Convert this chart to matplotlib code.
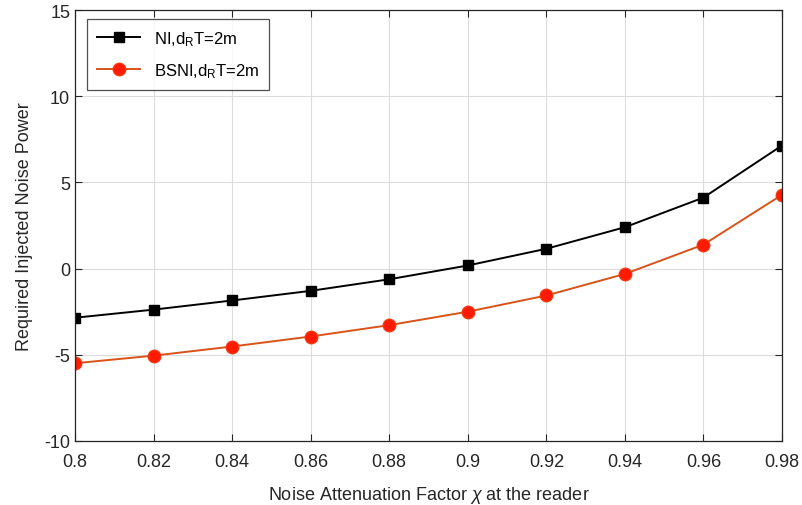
from matplotlib import pyplot as pl
import matplotlib

matplotlib.rcParams['font.family'] = ['Liberation Sans', 'DejaVu Sans']
matplotlib.rcParams['mathtext.fontset'] = 'custom'
matplotlib.rcParams['mathtext.rm'] = 'Liberation Sans'
matplotlib.rcParams['mathtext.it'] = 'Liberation Sans:italic'
matplotlib.rcParams['axes.unicode_minus'] = False

chi = [0.80, 0.82, 0.84, 0.86, 0.88, 0.90, 0.92, 0.94, 0.96, 0.98]
ni = [-2.85, -2.38, -1.85, -1.29, -0.62, 0.18, 1.15, 2.40, 4.12, 7.14]
bsni = [-5.49, -5.05, -4.52, -3.94, -3.28, -2.50, -1.56, -0.31, 1.39, 4.28]

xticks = [0.8, 0.82, 0.84, 0.86, 0.88, 0.9, 0.92, 0.94, 0.96, 0.98]
xticklabels = ['0.8', '0.82', '0.84', '0.86', '0.88', '0.9', '0.92', '0.94', '0.96', '0.98']
yticks = [-10, -5, 0, 5, 10, 15]

fig = pl.figure(figsize=(8.03, 5.06), dpi=100)
ax = fig.add_axes([75/803, 1-442/506, (782-75)/803, (442-11)/506])

ax.plot(chi, ni, color='k', marker='s', markersize=7, linewidth=1.4,
        markerfacecolor='k', markeredgecolor='k',
        label=r'NI,d$_\mathrm{R}$T=2m')
ax.plot(chi, bsni, color='#D95319', marker='o', markersize=9, linewidth=1.4,
        markerfacecolor='#FF1A00', markeredgecolor='#F03A10',
        label=r'BSNI,d$_\mathrm{R}$T=2m')

ax.set_xlim(0.8, 0.98)
ax.set_ylim(-10, 15)
ax.set_xticks(xticks)
ax.set_xticklabels(xticklabels)
ax.set_yticks(yticks)
ax.grid(True, color='#DCDCDC', linewidth=0.8)
ax.set_axisbelow(True)
ax.tick_params(direction='in', labelsize=13, colors='#262626', length=5,
               top=True, right=True)
ax.tick_params(axis='x', pad=9)
for s in ax.spines.values():
    s.set_color('#262626')
    s.set_linewidth(0.9)

ax.set_xlabel(r'Noise Attenuation Factor $\chi$ at the reader', fontsize=13,
              color='#262626', labelpad=10)
ax.set_ylabel('Required Injected Noise Power', fontsize=13, color='#262626',
              labelpad=8)

leg = ax.legend(loc='upper left', fontsize=12, frameon=True, fancybox=False,
                edgecolor='#262626', handlelength=2.6, borderpad=0.6,
                labelspacing=0.8, borderaxespad=0,
                bbox_to_anchor=(0.017, 0.979))
leg.get_frame().set_linewidth(0.9)

fig.savefig('out.png', dpi=100)
